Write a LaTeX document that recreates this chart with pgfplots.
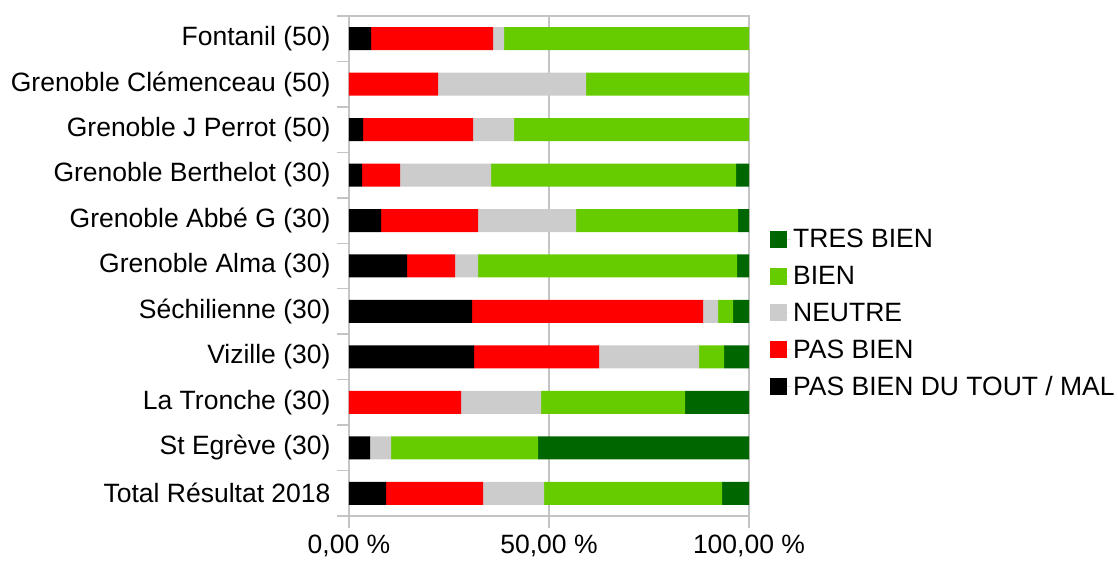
\documentclass[border=0pt]{standalone}
\usepackage{pgfplots}
\usepackage{pgfplotstable}
\pgfplotsset{compat=1.18}
\usepackage{fontspec}
\setmainfont{Liberation Sans}
\definecolor{tresbien}{HTML}{006600}
\definecolor{bien}{HTML}{66CC00}
\definecolor{neutre}{HTML}{CCCCCC}
\definecolor{pasbien}{HTML}{FF0000}
\definecolor{mal}{HTML}{000000}
\definecolor{axisgray}{HTML}{C4C4C4}

\pgfplotstableread{
y mal pasbien neutre bien tresbien
0 9.25 24.25 15.25 44.5 6.75
1 5.25 0 5.25 36.75 52.75
2 0 28 20 36 16
3 31.25 31.25 25 6.25 6.25
4 30.75 57.75 3.75 3.75 4
5 14.5 12 5.75 64.75 3
6 8 24.25 24.5 40.5 2.75
7 3.25 9.5 22.75 61.25 3.25
8 3.5 27.5 10.25 58.75 0
9 0 22.25 37 40.75 0
10 5.5 30.5 2.75 61.25 0
}\data

\newcommand{\chartfont}{\fontsize{26.5bp}{31bp}\selectfont}
\pgfplotsset{sq/.style={legend image code/.code={\fill[##1] (0bp,-8.5bp) rectangle (17bp,8.5bp); \path (0bp,0bp) -- (21bp,0bp);}}}

\begin{document}
\begin{tikzpicture}
\path[use as bounding box] (0bp,0bp) rectangle (1118bp,561bp);
\begin{axis}[
  at={(349bp,45bp)}, anchor=south west,
  scale only axis, width=400bp, height=500bp,
  xbar stacked, bar width=23bp,
  xmin=0, xmax=100, ymin=-0.5, ymax=10.5,
  xtick={0,50,100},
  xticklabels={{0,00 \%},{50,00 \%},{100,00 \%}},
  minor xtick={0,50,100},
  ytick={0,...,10},
  yticklabels={Total Résultat 2018, St Egrève (30), La Tronche (30), Vizille (30), Séchilienne (30), Grenoble Alma (30), Grenoble Abbé G (30), Grenoble Berthelot (30), Grenoble J Perrot (50), Grenoble Clémenceau (50), Fontanil (50)},
  minor ytick={-0.5,0.5,...,10.5},
  major tick length=0pt, minor tick length=12bp,
  tick align=outside, tick pos=left,
  xmajorgrids, major grid style={axisgray, line width=1.4bp},
  axis line style={axisgray, line width=1.4bp},
  every tick/.style={axisgray, line width=1.4bp},
  minor tick style={axisgray, line width=1.4bp},
  tick label style={font=\chartfont, text=black},
  yticklabel style={xshift=-15bp},
  xticklabel style={yshift=-18bp, inner ysep=1bp},
  reverse legend,
  legend style={draw=none, fill=none, at={(1.045,0.582)}, anchor=north west,
    font=\chartfont, row sep=13bp},
  legend cell align=left,
]
\addplot[fill=mal, draw=none, sq] table[x=mal, y=y] {\data};
\addlegendentry{PAS BIEN DU TOUT / MAL}
\addplot[fill=pasbien, draw=none, sq] table[x=pasbien, y=y] {\data};
\addlegendentry{PAS BIEN}
\addplot[fill=neutre, draw=none, sq] table[x=neutre, y=y] {\data};
\addlegendentry{NEUTRE}
\addplot[fill=bien, draw=none, sq] table[x=bien, y=y] {\data};
\addlegendentry{BIEN}
\addplot[fill=tresbien, draw=none, sq] table[x=tresbien, y=y] {\data};
\addlegendentry{TRES BIEN}
\end{axis}
\end{tikzpicture}
\end{document}
